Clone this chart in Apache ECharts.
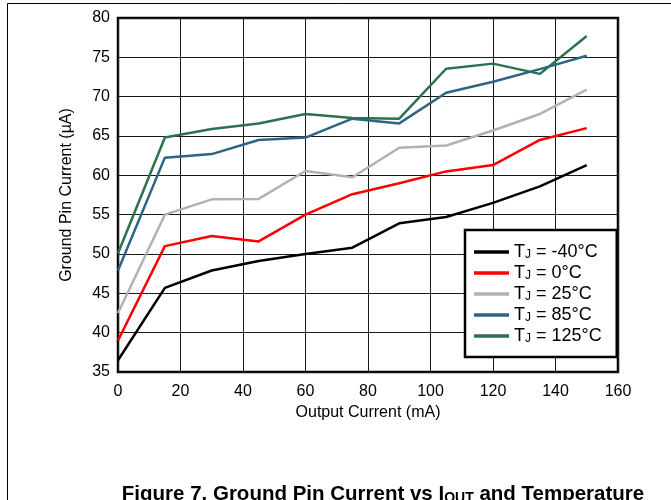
<!DOCTYPE html>
<html><head><meta charset="utf-8">
<script src="https://cdn.jsdelivr.net/npm/echarts@6/dist/echarts.min.js"></script>
<style>html,body{margin:0;padding:0;background:#fff}#c{width:671px;height:500px}</style>
</head><body><div id="c"></div>
<script>
const xValues = [0, 15, 30, 45, 60, 75, 90, 105, 120, 135, 150];
const seriesNames = ['-40°C', '0°C', '25°C', '85°C', '125°C'];
const tjM40 = [36.5, 45.7, 47.9, 49.1, 50.0, 50.8, 53.9, 54.7, 56.5, 58.6, 61.3];
const tj0 = [39.0, 51.0, 52.3, 51.6, 55.0, 57.6, 59.0, 60.5, 61.3, 64.5, 66.0];
const tj25 = [42.5, 55.0, 56.95, 57.0, 60.55, 59.75, 63.5, 63.8, 65.7, 67.8, 70.9];
const tj85 = [47.9, 62.25, 62.7, 64.5, 64.8, 67.2, 66.6, 70.5, 71.9, 73.5, 75.2];
const tj125 = [50.1, 64.8, 65.9, 66.6, 67.8, 67.3, 67.2, 73.55, 74.2, 72.9, 77.7];
const colors = ['#000000', '#ff0000', '#b2b2b2', '#2d6582', '#2b7150'];
const allData = [tjM40, tj0, tj25, tj85, tj125];

const font = 'Liberation Sans, Arial, sans-serif';
const chart = echarts.init(document.getElementById('c'), null, {renderer: 'canvas'});
chart.setOption({
  animation: false,
  backgroundColor: '#fff',
  grid: {left: 118, top: 18, width: 500, height: 354, show: true, borderColor: '#000', borderWidth: 2.5, containLabel: false},
  title: {
    text: 'Figure 7. Ground Pin Current vs I{sub|OUT} and Temperature',
    left: 378, top: 478, textAlign: 'center',
    textStyle: {fontFamily: font, fontSize: 20.5, fontWeight: 'bold', color: '#000', lineHeight: 22,
      rich: {sub: {fontFamily: font, fontSize: 14, fontWeight: 'bold', verticalAlign: 'bottom', lineHeight: 22, padding: [9, 0, 0, 0], color: '#000'}}}
  },
  legend: {
    left: 465, top: 230,
    orient: 'vertical', itemGap: 1, itemWidth: 35, itemHeight: 3.5, itemTextGap: 11,
    borderColor: '#000', borderWidth: 2.5, padding: [11, 15, 12, 9],
    backgroundColor: '#fff',
    icon: 'rect',
    data: seriesNames,
    formatter: n => 'T{sub|J} = ' + n,
    textStyle: {fontFamily: font, fontSize: 18, color: '#000', lineHeight: 18,
      rich: {sub: {fontFamily: font, fontSize: 12, verticalAlign: 'bottom', lineHeight: 18, padding: [8, 0, 0, 0], color: '#000'}}}
  },
  xAxis: {
    type: 'value', min: 0, max: 160, interval: 20,
    name: 'Output Current (mA)', nameLocation: 'middle', nameGap: 30,
    nameTextStyle: {fontFamily: font, fontSize: 16, color: '#000'},
    axisLine: {show: false}, axisTick: {show: false},
    axisLabel: {fontFamily: font, fontSize: 16, color: '#000', margin: 12},
    splitLine: {show: true, lineStyle: {color: '#1a1a1a', width: 1}}
  },
  yAxis: {
    type: 'value', min: 35, max: 80, interval: 5,
    name: 'Ground Pin Current (µA)', nameLocation: 'middle', nameGap: 43,
    nameTextStyle: {fontFamily: font, fontSize: 16, color: '#000'},
    axisLine: {show: false}, axisTick: {show: false},
    axisLabel: {fontFamily: font, fontSize: 16, color: '#000', margin: 8},
    splitLine: {show: true, lineStyle: {color: '#1a1a1a', width: 1}}
  },
  series: seriesNames.map((n, i) => ({
    name: n, type: 'line', symbol: 'none', z: 3 + i,
    data: xValues.map((x, j) => [x, allData[i][j]]),
    lineStyle: {color: colors[i], width: 2.5},
    itemStyle: {color: colors[i]}
  })),
  graphic: [
    {type: 'polyline', shape: {points: [[7.5, 500], [7.5, 3.5], [671, 3.5]]}, style: {stroke: '#000', lineWidth: 1, fill: null}, silent: true}
  ]
});
</script></body></html>
